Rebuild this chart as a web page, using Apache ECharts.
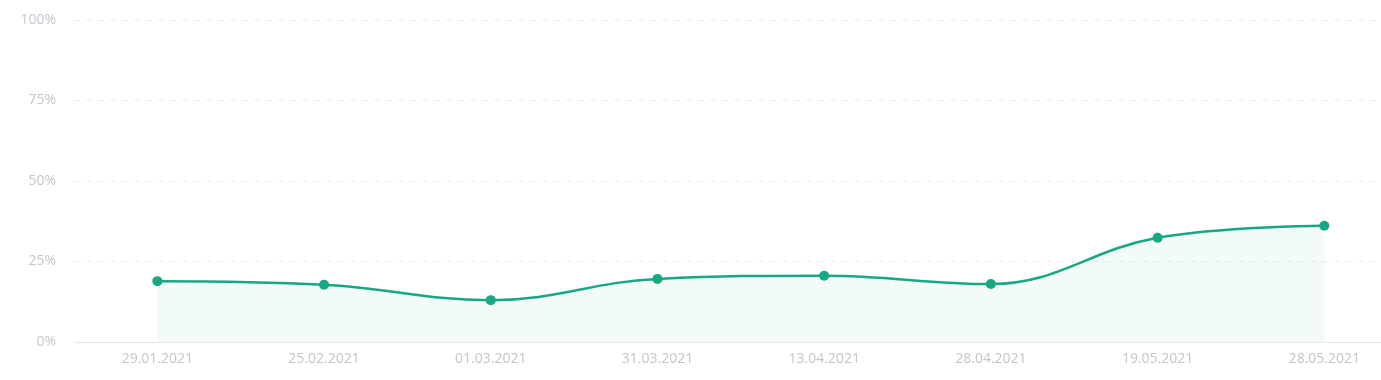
<!DOCTYPE html>
<html>
<head>
<meta charset="utf-8">
<script src="https://cdn.jsdelivr.net/npm/echarts@6/dist/echarts.min.js"></script>
<style>
html,body{margin:0;padding:0;background:#fff;}
#chart{width:1381px;height:380px;}
</style>
</head>
<body>
<div id="chart"></div>
<script>
const categories = ['29.01.2021','25.02.2021','01.03.2021','31.03.2021','13.04.2021','28.04.2021','19.05.2021','28.05.2021'];
const values = [18.9, 17.8, 13.0, 19.6, 20.6, 18.0, 32.4, 36.1];
const yTicks = [0, 25, 50, 75, 100];

const chart = echarts.init(document.getElementById('chart'));
const idx = categories.map((c, i) => i);
chart.setOption({
  animation: false,
  grid: { left: 74, right: 0, top: 20, bottom: 38 },
  xAxis: {
    type: 'value',
    min: -0.5,
    max: 7.34,
    splitLine: { show: false },
    axisLine: { show: true, lineStyle: { color: '#e6e8ea', width: 1 } },
    axisTick: { show: false },
    axisLabel: {
      customValues: idx,
      formatter: v => categories[Math.round(v)] || '',
      color: '#c2c6cc',
      fontFamily: 'Open Sans',
      fontSize: 14,
      margin: 10
    }
  },
  yAxis: {
    type: 'value',
    min: 0,
    max: 100,
    interval: 25,
    axisLine: { show: false },
    axisTick: { show: false },
    axisLabel: {
      formatter: v => yTicks.includes(v) ? v + '%' : '',
      color: '#c2c6cc',
      fontFamily: 'Open Sans',
      fontSize: 14,
      margin: 18
    },
    splitLine: { show: true, lineStyle: { color: '#ebedef', type: [6, 6], width: 1 } }
  },
  series: [{
    type: 'line',
    data: values.map((v, i) => [i, v]),
    smooth: 0.4,
    symbol: 'circle',
    symbolSize: 10,
    itemStyle: { color: '#17a883' },
    lineStyle: { color: '#17a883', width: 2.5 },
    areaStyle: { color: 'rgba(23,168,131,0.07)' }
  }]
});
</script>
</body>
</html>
